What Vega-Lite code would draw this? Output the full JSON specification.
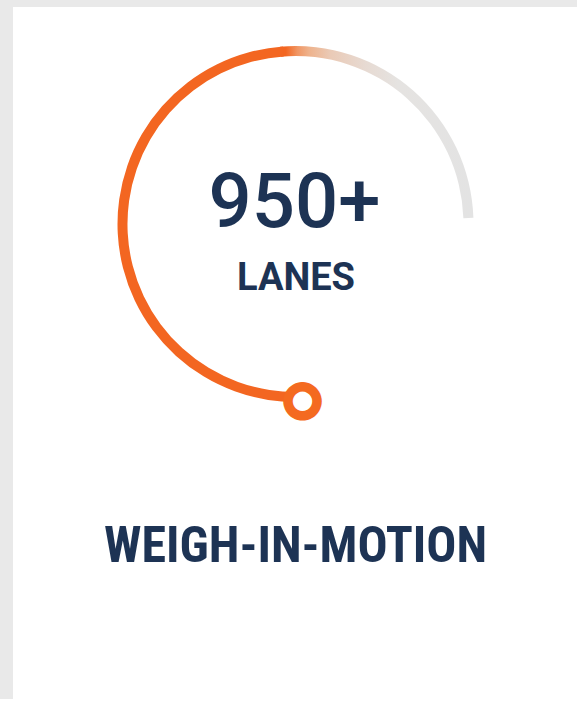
{
  "$schema": "https://vega.github.io/schema/vega-lite/v6.json",
  "background": "#e9e9e9",
  "padding": {"left": 13, "top": 7, "right": 0, "bottom": 0},
  "spacing": 0,
  "bounds": "flush",
  "config": {"view": {"stroke": null, "fill": "#ffffff"}},
  "vconcat": [
    {
      "width": 565,
      "height": 434,
      "view": {"fill": "#ffffff", "stroke": null},
      "layer": [
        {
          "data": {"values": [{"segment": "remaining", "start": 355, "end": 448}]},
          "mark": {
            "type": "arc",
            "radius": 178,
            "radius2": 168,
            "fill": {
              "gradient": "linear",
              "x1": 0, "y1": 0, "x2": 1, "y2": 0,
              "stops": [
                {"offset": 0, "color": "#f36621"},
                {"offset": 0.03, "color": "#f36621"},
                {"offset": 0.09, "color": "#f09664"},
                {"offset": 0.15, "color": "#eeb28c"},
                {"offset": 0.26, "color": "#eacab6"},
                {"offset": 0.44, "color": "#e7dad2"},
                {"offset": 0.61, "color": "#e5e3e1"},
                {"offset": 1, "color": "#e3e3e3"}
              ]
            }
          },
          "encoding": {
            "theta": {"field": "start", "type": "quantitative", "stack": null, "scale": {"domain": [0, 360], "range": [0, 6.283185307179586]}},
            "theta2": {"field": "end"}
          }
        },
        {
          "data": {"values": [{"segment": "filled", "start": 177.7, "end": 356}]},
          "mark": {"type": "arc", "radius": 178, "radius2": 168, "fill": "#f36621"},
          "encoding": {
            "theta": {"field": "start", "type": "quantitative", "stack": null, "scale": {"domain": [0, 360], "range": [0, 6.283185307179586]}},
            "theta2": {"field": "end"}
          }
        },
        {
          "data": {"values": [{"point": "value", "angle": 177.7}]},
          "mark": {
            "type": "text",
            "text": "●",
            "radius": 179,
            "font": "DejaVu Sans",
            "fontSize": 38,
            "fill": "#ffffff",
            "stroke": "#f46a20",
            "strokeWidth": 9.5,
            "align": "center",
            "baseline": "middle",
            "dy": -2.5
          },
          "encoding": {
            "theta": {"field": "angle", "type": "quantitative", "stack": null, "scale": {"domain": [0, 360], "range": [0, 6.283185307179586]}}
          }
        },
        {
          "data": {"values": [{"label": "950+"}]},
          "mark": {"type": "text", "font": "Roboto", "fontWeight": 500, "fontSize": 76, "fill": "#1d3354", "align": "center", "baseline": "alphabetic", "dy": 2.5, "dx": -1},
          "encoding": {"text": {"field": "label"}}
        },
        {
          "data": {"values": [{"label": "LANES"}]},
          "mark": {"type": "text", "font": "Roboto", "fontWeight": "bold", "fontSize": 38, "fill": "#1d3354", "align": "center", "baseline": "alphabetic", "dy": 66, "dx": 0.5},
          "encoding": {"text": {"field": "label"}}
        }
      ]
    },
    {
      "width": 565,
      "height": 258,
      "view": {"fill": "#ffffff", "stroke": null},
      "data": {"values": [{"label": "WEIGH-IN-MOTION"}]},
      "mark": {"type": "text", "font": "Roboto Condensed, Liberation Sans Narrow, Roboto", "fontWeight": "bold", "fontSize": 50, "fill": "#1d3354", "align": "center", "baseline": "alphabetic", "dy": -8.3},
      "encoding": {"text": {"field": "label"}}
    }
  ]
}
